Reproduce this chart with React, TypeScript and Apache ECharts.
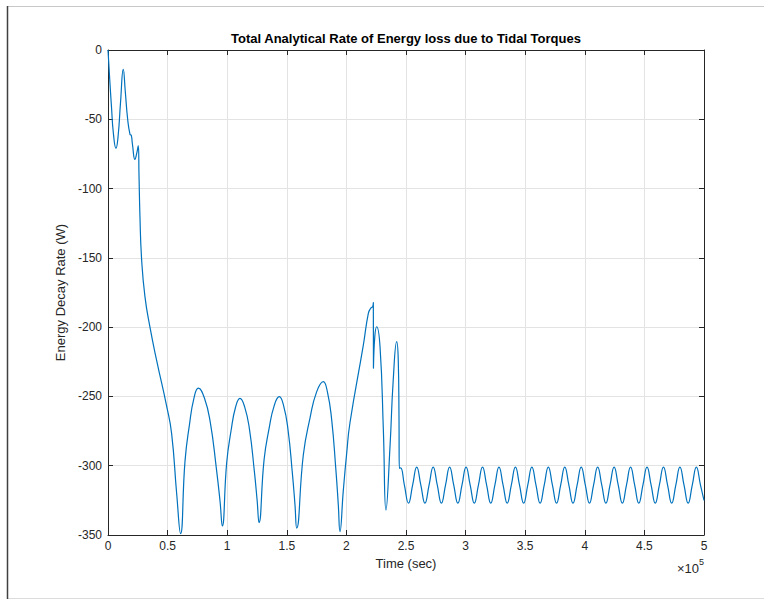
import React, { useEffect, useRef } from "react";
import * as echarts from "echarts";

const TITLE = "Total Analytical Rate of Energy loss due to Tidal Torques";
const X_NAME = "Time (sec)";
const Y_NAME = "Energy Decay Rate (W)";

// time (sec) of each sampled point
const timeSec = [
  0, 1500, 3000, 4500, 6700, 8500, 10500, 12800, 14500, 16500, 18500, 19500, 20500, 22600, 24000, 25400,
  26000, 26800, 28200, 31000, 35200, 40800, 49200, 53400, 57600, 60900,
  64625, 68350, 72075, 75800, 80825, 85850, 90875, 93990, 95900,
  99600, 103300, 107000, 110700, 114700, 118700, 122700, 125100, 126700,
  130950, 135200, 139450, 143700, 147350, 151000, 154650, 156840, 158300,
  163875, 169450, 175025, 180600, 184100, 187600, 191100, 193200, 194600,
  197400, 200250, 203000, 214200, 218400, 220400, 222100, 222600, 222700, 223800,
  225400, 228200, 231000, 233200, 236600, 239300, 242200, 243500, 244100, 244400, 245500,
  248650, 252100, 255550, 259000, 262450, 265900, 269350, 272800, 276250, 279700, 283150, 286600,
  290050, 293500, 296950, 300400, 303850, 307300, 310750, 314200, 317650, 321100, 324550, 328000,
  331450, 334900, 338350, 341800, 345250, 348700, 352150, 355600, 359050, 362500, 365950, 369400,
  372850, 376300, 379750, 383200, 386650, 390100, 393550, 397000, 400450, 403900, 407350, 410800,
  414250, 417700, 421150, 424600, 428050, 431500, 434950, 438400, 441850, 445300, 448750, 452200,
  455650, 459100, 462550, 466000, 469450, 472900, 476350, 479800, 483250, 486700, 490150, 493600,
  497050, 500000,
];

// energy decay rate (W) at each time above
const decayRate = [
  0, -22, -42, -60, -71, -62, -38, -14, -30, -50, -61, -61.5, -68, -79, -75, -69,
  -90, -120, -151, -178, -200, -224, -257, -277, -320, -349,
  -296.5, -270.3, -251.4, -244, -251, -268.9, -301.7, -325.6, -343.5,
  -297.5, -274.4, -257.8, -251.4, -257.7, -273.8, -303.4, -324.9, -341,
  -295.6, -272.9, -256.6, -250.2, -256.8, -273.9, -305.2, -327.9, -345,
  -292.1, -265.7, -246.7, -239.3, -246.9, -266.4, -302.1, -328.1, -347.6,
  -318, -290.9, -269, -213, -190, -186.4, -185, -182.3, -229.7, -207,
  -199.7, -214, -274, -332, -286, -238, -210.5, -223.7, -262, -301.9, -301.5,
  -314, -327, -314, -301, -314, -327, -314, -301, -314, -327, -314, -301,
  -314, -327, -314, -301, -314, -327, -314, -301, -314, -327, -314, -301,
  -314, -327, -314, -301, -314, -327, -314, -301, -314, -327, -314, -301,
  -314, -327, -314, -301, -314, -327, -314, -301, -314, -327, -314, -301,
  -314, -327, -314, -301, -314, -327, -314, -301, -314, -327, -314, -301,
  -314, -327, -314, -301, -314, -327, -314, -301, -314, -327, -314, -301,
  -314, -325,
];

const AXIS_COLOR = "#262626";
const GRID_COLOR = "#e3e3e3";
const FONT = "Liberation Sans";

export default function App() {
  const ref = useRef<HTMLDivElement>(null);
  useEffect(() => {
    if (!ref.current) return;
    const chart = echarts.init(ref.current, null, { renderer: "svg" });
    const data = timeSec.map((t, i) => [t, decayRate[i]]);
    const tickCommon = { show: true, inside: true, length: 5, lineStyle: { color: AXIS_COLOR, width: 1 } };
    chart.setOption({
      animation: false,
      backgroundColor: "#ffffff",
      grid: { left: 108, top: 50, width: 596, height: 485, containLabel: false },
      xAxis: [
        {
          type: "value",
          min: 0,
          max: 500000,
          interval: 50000,
          name: X_NAME,
          nameLocation: "middle",
          nameGap: 19,
          nameTextStyle: { color: AXIS_COLOR, fontSize: 13, fontFamily: FONT },
          axisLine: { show: true, onZero: false, lineStyle: { color: AXIS_COLOR, width: 1 } },
          axisTick: tickCommon,
          axisLabel: {
            color: AXIS_COLOR,
            fontSize: 12,
            fontFamily: FONT,
            margin: 5,
            formatter: (v: number) => String(v / 100000),
          },
          splitLine: { show: true, lineStyle: { color: GRID_COLOR, width: 1 } },
        },
        {
          type: "value",
          position: "top",
          min: 0,
          max: 500000,
          interval: 50000,
          axisLine: { show: true, onZero: false, lineStyle: { color: AXIS_COLOR, width: 1 } },
          axisTick: tickCommon,
          axisLabel: { show: false },
          splitLine: { show: false },
        },
      ],
      yAxis: [
        {
          type: "value",
          min: -350,
          max: 0,
          interval: 50,
          name: Y_NAME,
          nameLocation: "middle",
          nameGap: 36,
          nameTextStyle: { color: AXIS_COLOR, fontSize: 13, fontFamily: FONT },
          axisLine: { show: true, onZero: false, lineStyle: { color: AXIS_COLOR, width: 1 } },
          axisTick: tickCommon,
          axisLabel: { color: AXIS_COLOR, fontSize: 12, fontFamily: FONT, margin: 6 },
          splitLine: { show: true, lineStyle: { color: GRID_COLOR, width: 1 } },
        },
        {
          type: "value",
          position: "right",
          min: -350,
          max: 0,
          interval: 50,
          axisLine: { show: true, onZero: false, lineStyle: { color: AXIS_COLOR, width: 1 } },
          axisTick: tickCommon,
          axisLabel: { show: false },
          splitLine: { show: false },
        },
      ],
      series: [
        {
          type: "line",
          data,
          xAxisIndex: 0,
          yAxisIndex: 0,
          smooth: 0.5,
          showSymbol: false,
          lineStyle: { color: "#0072BD", width: 1.2 },
          z: 5,
        },
      ],
      graphic: [
        {
          type: "text",
          x: 406,
          y: 38,
          style: {
            text: TITLE,
            textAlign: "center",
            textVerticalAlign: "middle",
            font: `bold 13px "${FONT}"`,
            fill: "#000000",
          },
        },
        {
          type: "text",
          x: 704,
          y: 566,
          style: {
            text: "{a|×10}{b|5}",
            textAlign: "right",
            textVerticalAlign: "middle",
            rich: {
              a: { fontSize: 13, fontFamily: FONT, fill: AXIS_COLOR, verticalAlign: "bottom" },
              b: { fontSize: 9, fontFamily: FONT, fill: AXIS_COLOR, verticalAlign: "top", padding: [0, 0, 8, 0] },
            },
          },
        },
        { type: "line", shape: { x1: 7, y1: 6.5, x2: 764, y2: 6.5 }, style: { stroke: "#c8c8c8", lineWidth: 1 } },
        { type: "line", shape: { x1: 7, y1: 598.5, x2: 764, y2: 598.5 }, style: { stroke: "#dcdcdc", lineWidth: 1 } },
        { type: "line", shape: { x1: 7.5, y1: 6, x2: 7.5, y2: 599 }, style: { stroke: "#404040", lineWidth: 1.5 } },
      ],
    });
    return () => chart.dispose();
  }, []);
  return (
    <div
      ref={ref}
      style={{ position: "fixed", left: 0, top: 0, width: 764, height: 600, background: "#fff" }}
    />
  );
}
